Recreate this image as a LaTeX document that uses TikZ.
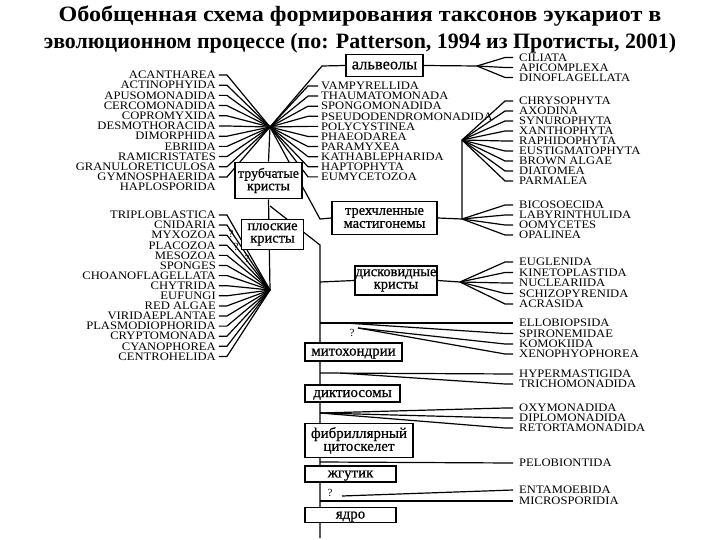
\documentclass[tikz,border=0pt]{standalone}
\usepackage{fontspec}
\usepackage{graphicx}
\setmainfont{Liberation Serif}
\newfontfamily\labfont[FakeStretch=1.1]{Liberation Serif}
\newfontfamily\boxfont[FakeBold=0.6]{Liberation Serif}
\pgfdeclarelayer{bg}
\pgfsetlayers{bg,main}
\begin{document}
\begin{tikzpicture}[x=1bp,y=-1bp,
  ttl/.style={font=\bfseries\fontsize{22}{22}\selectfont, inner sep=0pt},
  lab/.style={font=\labfont\fontsize{11.5}{11}\selectfont, inner sep=0pt},
  qm/.style={font=\fontsize{11}{11}\selectfont, inner sep=0pt},
  box/.style={draw, line width=1.7bp, fill=white, inner sep=0pt,
    font=\boxfont\fontsize{15}{13}\selectfont},
  box1/.style={box, text depth=0pt},
  box2/.style={box, align=center},
  ln/.style={line width=1.2bp}]
\useasboundingbox (0,0) rectangle (720,540);

% title
\node[ttl] (t1) at (360,16) {\scalebox{1.1}[1]{Обобщенная схема формирования таксонов эукариот в}};
\node[ttl] (t2) at (360,43) {эволюционном процессе (по: Patterson, 1994 из Протисты, 2001)};

% boxes
\node[box1, minimum width=77, minimum height=22, font=\boxfont\fontsize{16.5}{14}\selectfont] (alv) at (384.5,65.5) {альвеолы};
\node[box2, minimum width=67, minimum height=36, font=\boxfont\fontsize{14}{12.5}\selectfont] (tru) at (268.5,180.5) {трубчатые\\кристы};
\node[box2, minimum width=62, minimum height=30, font=\boxfont\fontsize{14.5}{12.5}\selectfont] (plo) at (272.5,234.5) {плоские\\кристы};
\node[box2, minimum width=105, minimum height=33, font=\boxfont\fontsize{14.5}{13}\selectfont] (tre) at (384.5,218) {трехчленные\\мастигонемы};
\node[box2, minimum width=82, minimum height=29, font=\boxfont\fontsize{14.5}{12.5}\selectfont] (dis) at (396,280.5) {дисковидные\\кристы};
\node[box1, minimum width=97, minimum height=18] (mit) at (353.5,352) {митохондрии};
\node[box1, minimum width=95, minimum height=17] (dik) at (352.5,393.5) {диктиосомы};
\node[box2, minimum width=108, minimum height=34] (fib) at (359,440.5) {фибриллярный\\цитоскелет};
\node[box1, minimum width=91, minimum height=16] (zhg) at (350.5,474) {жгутик};
\node[box1, minimum width=91, minimum height=15] (yad) at (350.5,515) {ядро};

% hubs and bends
\coordinate (h1) at (270,127);
\coordinate (h2) at (270,290);
\coordinate (ka) at (322,66);
\coordinate (kt) at (320,219);
\coordinate (ks) at (270,206);
\coordinate (kp) at (320,245);
\coordinate (tb) at (320,538);
\coordinate (ja) at (477,66);
\coordinate (j9) at (462,140);
\coordinate (j3) at (462,219);
\coordinate (jd) at (460,282);
\coordinate (td) at (320,282);
\coordinate (e1) at (320,323);
\coordinate (q1) at (345,323);
\coordinate (q2) at (358,328);
\coordinate (e2) at (320,373);
\coordinate (q3) at (340,373);
\coordinate (e3) at (320,413);
\coordinate (e4) at (320,462);
\coordinate (q4) at (342,496);
\coordinate (e5) at (320,501);

% left group 1
\foreach \t [count=\i from 0] in {ACANTHAREA,ACTINOPHYIDA,APUSOMONADIDA,CERCOMONADIDA,COPROMYXIDA,DESMOTHORACIDA,DIMORPHIDA,EBRIIDA,RAMICRISTATES,GRANULORETICULOSA,GYMNOSPHAERIDA,HAPLOSPORIDA}
  \node[lab, anchor=east] (a\i) at (216,{75+10.2*\i}) {\t};
% center group
\foreach \t [count=\i from 0] in {VAMPYRELLIDA,THAUMATOMONADA,SPONGOMONADIDA,PSEUDODENDROMONADIDA,POLYCYSTINEA,PHAEODAREA,PARAMYXEA,KATHABLEPHARIDA,HAPTOPHYTA,EUMYCETOZOA}
  \node[lab, anchor=west] (c\i) at (321,{86+10.1*\i}) {\t};
% left group 2
\foreach \t [count=\i from 0] in {TRIPLOBLASTICA,CNIDARIA,MYXOZOA,PLACOZOA,MESOZOA,SPONGES,CHOANOFLAGELLATA,CHYTRIDA,EUFUNGI,RED ALGAE,VIRIDAEPLANTAE,PLASMODIOPHORIDA,CRYPTOMONADA,CYANOPHOREA,CENTROHELIDA}
  \node[lab, anchor=east] (b\i) at (216,{215+10.1*\i}) {\t};
% right: alveolates
\foreach \t/\y [count=\i from 0] in {CILIATA/57.5,APICOMPLEXA/67.5,DINOFLAGELLATA/77.5}
  \node[lab, anchor=west] (ra\i) at (519,\y) {\t};
\foreach \t [count=\i from 0] in {CHRYSOPHYTA,AXODINA,SYNUROPHYTA,XANTHOPHYTA,RAPHIDOPHYTA,EUSTIGMATOPHYTA,BROWN ALGAE,DIATOMEA,PARMALEA}
  \node[lab, anchor=west] (rs\i) at (519,{101+10*\i}) {\t};
\foreach \t [count=\i from 0] in {BICOSOECIDA,LABYRINTHULIDA,OOMYCETES,OPALINEA}
  \node[lab, anchor=west] (rb\i) at (519,{205+10*\i}) {\t};
\foreach \t [count=\i from 0] in {EUGLENIDA,KINETOPLASTIDA,NUCLEARIIDA,SCHIZOPYRENIDA,ACRASIDA}
  \node[lab, anchor=west] (rd\i) at (519,{262+10.5*\i}) {\t};
\node[lab, anchor=west] (ell) at (519,323) {ELLOBIOPSIDA};
\node[lab, anchor=west] (spi) at (519,333.5) {SPIRONEMIDAE};
\node[lab, anchor=west] (kom) at (519,344) {KOMOKIIDA};
\node[lab, anchor=west] (xen) at (519,354) {XENOPHYOPHOREA};
\node[lab, anchor=west] (hyp) at (519,374) {HYPERMASTIGIDA};
\node[lab, anchor=west] (tri) at (519,384) {TRICHOMONADIDA};
\node[lab, anchor=west] (oxy) at (519,408) {OXYMONADIDA};
\node[lab, anchor=west] (dip) at (519,418) {DIPLOMONADIDA};
\node[lab, anchor=west] (ret) at (519,428) {RETORTAMONADIDA};
\node[lab, anchor=west] (pel) at (519,463) {PELOBIONTIDA};
\node[lab, anchor=west] (ent) at (519,490) {ENTAMOEBIDA};
\node[lab, anchor=west] (mic) at (519,501) {MICROSPORIDIA};

% question marks
\node[qm] (qa) at (231,234) {?};
\node[qm] (qb) at (236,247) {?};
\node[qm] (qc) at (247,259) {?};
\node[qm] (qd) at (352,333) {?};
\node[qm] (qe) at (330,493) {?};

\begin{pgfonlayer}{bg}
% group 1
\foreach \i in {0,...,10}
  \draw[ln] ([xshift=3]a\i.east) -- ([xshift=11]a\i.east) -- (h1);
\foreach \i in {0,...,9}
  \draw[ln] (h1) -- ([xshift=-13]c\i.west) -- ([xshift=-3]c\i.west);
\draw[ln] (h1) -- (tru.north);
\draw[ln] (h1) -- (ka) -- (alv.west);
\draw[ln] (h1) -- (kt) -- (tre.west);
% alveolates
\draw[ln] (alv.east) -- (ja);
\foreach \i in {0,1,2}
  \draw[ln] (ja) -- ([xshift=-14]ra\i.west) -- ([xshift=-6]ra\i.west);
% stramenopiles
\draw[ln] (tre.east) -- (j3) -- (j9);
\foreach \i in {0,...,8}
  \draw[ln] (j9) -- ([xshift=-14]rs\i.west) -- ([xshift=-6]rs\i.west);
\foreach \i in {0,...,3}
  \draw[ln] (j3) -- ([xshift=-14]rb\i.west) -- ([xshift=-6]rb\i.west);
% tube cristae to flat cristae and trunk
\draw[ln] (tru.south) -- (h2);
\draw[ln] (ks) -- (kp) -- (tb);
% group 2
\foreach \i in {0,...,14}
  \draw[ln] ([xshift=3]b\i.east) -- ([xshift=11]b\i.east) -- (h2);
% discoid cristae
\draw[ln] (td) -- (dis.west);
\draw[ln] (dis.east) -- (jd);
\foreach \i in {0,...,4}
  \draw[ln] (jd) -- ([xshift=-14]rd\i.west) -- ([xshift=-6]rd\i.west);
% lower branches
\draw[ln] (e1) -- ([xshift=-6]ell.west);
\draw[ln] (q1) -- ([xshift=-14]spi.west) -- ([xshift=-6]spi.west);
\draw[ln] (q2) -- ([xshift=-14]kom.west) -- ([xshift=-6]kom.west);
\draw[ln] (q2) -- ([xshift=-14]xen.west) -- ([xshift=-6]xen.west);
\draw[ln] (e2) -- ([xshift=-6]hyp.west);
\draw[ln] (q3) -- ([xshift=-14]tri.west) -- ([xshift=-6]tri.west);
\draw[ln] (e3) -- ([xshift=-14]oxy.west) -- ([xshift=-6]oxy.west);
\draw[ln] (e3) -- ([xshift=-14]dip.west) -- ([xshift=-6]dip.west);
\draw[ln] (e3) -- ([xshift=-14]ret.west) -- ([xshift=-6]ret.west);
\draw[ln] (e4) -- ([xshift=-6]pel.west);
\draw[ln] (q4) -- ([xshift=-6]ent.west);
\draw[ln] (e5) -- ([xshift=-6]mic.west);
\end{pgfonlayer}
\end{tikzpicture}
\end{document}
